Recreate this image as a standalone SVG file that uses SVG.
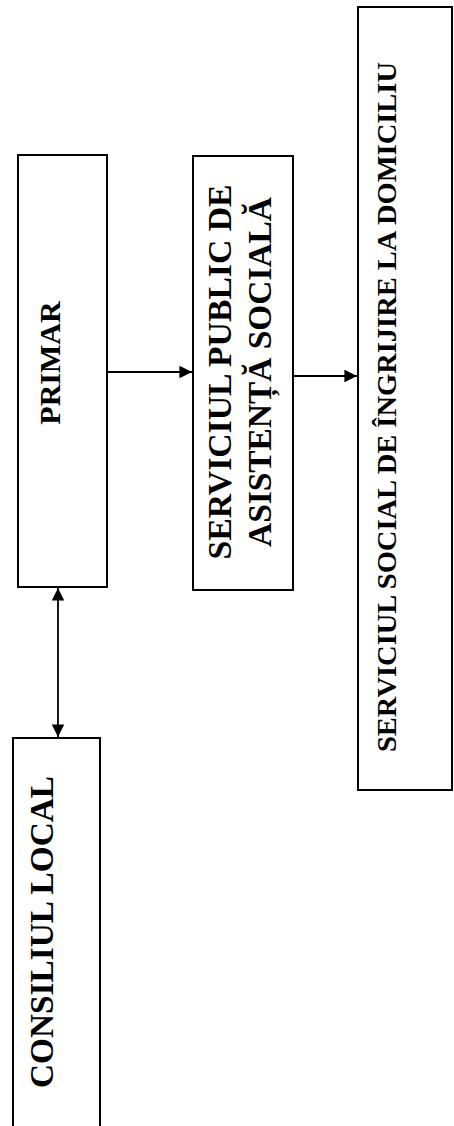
<svg xmlns="http://www.w3.org/2000/svg" width="454" height="1126" viewBox="0 0 454 1126">
<style>
.box{fill:#fff;stroke:#000;stroke-width:2}
.t{font-family:"Liberation Serif","Times New Roman",serif;font-weight:bold;fill:#000;text-anchor:middle}
.c{stroke:#000;stroke-width:1.8;fill:none}
</style>
<defs>
<marker id="ah" viewBox="0 0 10 10" refX="10" refY="5" markerWidth="7" markerHeight="7" orient="auto-start-reverse" markerUnits="strokeWidth">
<path d="M0,0 L10,5 L0,10 z" fill="#000"/>
</marker>
</defs>
<rect width="454" height="1126" fill="#fff"/>
<g id="connectors">
<line class="c" x1="58" y1="588" x2="58" y2="737" marker-start="url(#ah)" marker-end="url(#ah)"/>
<line class="c" x1="107" y1="372" x2="192" y2="372" marker-end="url(#ah)"/>
<line class="c" x1="294" y1="376" x2="357" y2="376" marker-end="url(#ah)"/>
</g>
<g id="primar">
<rect class="box" x="18" y="155" width="89" height="432"/>
<text class="t" font-size="30" transform="translate(60,363) rotate(-90)">PRIMAR</text>
</g>
<g id="consiliul-local">
<rect class="box" x="13" y="738" width="87" height="390"/>
<text class="t" font-size="34" textLength="312" lengthAdjust="spacingAndGlyphs" transform="translate(53,932) rotate(-90)">CONSILIUL LOCAL</text>
</g>
<g id="serviciul-public">
<rect class="box" x="193" y="156" width="100" height="434"/>
<text class="t" font-size="33" textLength="375" lengthAdjust="spacingAndGlyphs" transform="translate(231,372) rotate(-90)">SERVICIUL PUBLIC DE</text>
<text class="t" font-size="33" textLength="350" lengthAdjust="spacingAndGlyphs" transform="translate(271,372) rotate(-90)">ASISTENȚĂ SOCIALĂ</text>
</g>
<g id="serviciul-social">
<rect class="box" x="358" y="7" width="94" height="783"/>
<text class="t" font-size="28" textLength="690" lengthAdjust="spacingAndGlyphs" transform="translate(396,407) rotate(-90)">SERVICIUL SOCIAL DE ÎNGRIJIRE LA DOMICILIU</text>
</g>
</svg>
